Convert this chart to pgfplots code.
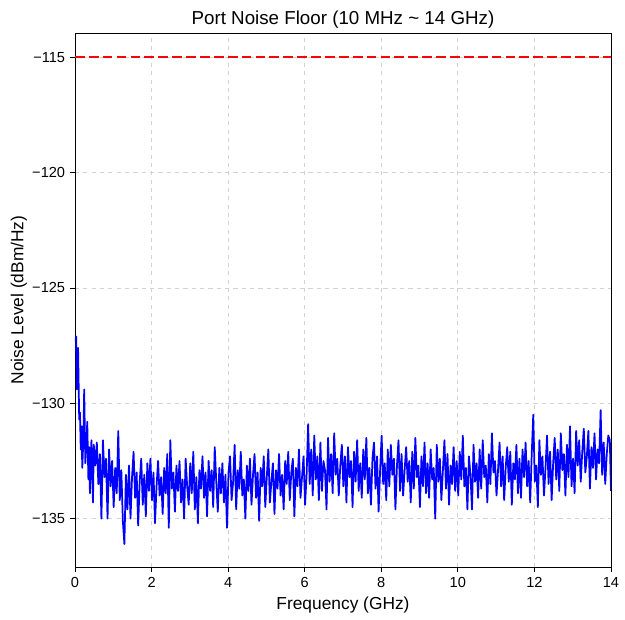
\documentclass[border=0pt]{standalone}
\usepackage{pgfplots}
\pgfplotsset{compat=1.18}
\usepackage{fontspec}
\setmainfont{Liberation Sans}

\begin{document}
\begin{tikzpicture}
  \begin{axis}[
      name=main,
      scale only axis,
      width=385.9pt,
      height=384.5pt,
      xmin=0, xmax=14,
      ymin=-137.1, ymax=-113.95,
      xtick={0,2,4,6,8,10,12,14},
      ytick={-135,-130,-125,-120,-115},
      yticklabels={−135,−130,−125,−120,−115},
      tick align=outside,
      tick pos=left,
      major tick length=3.6pt,
      tick style={black, line width=0.6pt},
      axis line style={black, line width=0.6pt},
      grid=major,
      major grid style={dashed, gray!35, line width=0.5pt},
      /pgf/number format/assume math mode=true,
      ticklabel style={font=\fontsize{10.5}{12}\selectfont},
      label style={font=\fontsize{12.5}{14}\selectfont},
      ylabel style={yshift=-3pt},
      title style={font=\fontsize{13.5}{16}\selectfont, yshift=-6.5pt},
      title={Port Noise Floor (10 MHz \textasciitilde{} 14 GHz)},
      xlabel={Frequency (GHz)},
      ylabel={Noise Level (dBm/Hz)},
    ]
    \addplot[color=blue, line width=1.25pt, line join=round] coordinates {
      (0.01,-127.3) (0.03,-127.1) (0.05,-129.4) (0.08,-127.6) (0.11,-130.7)
      (0.13,-130.4) (0.15,-132.0) (0.17,-131.0) (0.19,-132.8) (0.22,-131.5)
      (0.24,-129.4) (0.27,-132.6) (0.30,-131.7) (0.32,-130.8) (0.35,-133.3)
      (0.37,-131.9) (0.39,-133.9) (0.41,-132.3) (0.43,-131.6) (0.45,-133.1)
      (0.47,-134.3) (0.49,-131.8)
      (0.53,-132.7) (0.57,-131.7) (0.61,-133.5) (0.65,-132.2)
      (0.69,-135.0) (0.73,-131.6) (0.77,-133.2) (0.81,-132.4) (0.85,-135.0)
      (0.89,-132.0) (0.93,-133.6) (0.97,-132.5) (1.01,-134.5) (1.05,-132.8)
      (1.09,-133.9) (1.13,-131.2) (1.17,-134.2) (1.21,-132.9) (1.25,-135.1)
      (1.29,-136.1) (1.33,-133.1) (1.37,-134.6) (1.41,-132.7) (1.45,-135.0)
      (1.49,-133.2) (1.53,-132.1) (1.57,-134.1) (1.61,-133.0) (1.65,-135.3)
      (1.69,-133.4) (1.73,-132.4) (1.77,-134.4) (1.81,-133.1) (1.85,-134.9)
      (1.89,-132.6) (1.93,-133.8) (1.97,-132.4) (2.01,-134.2) (2.05,-133.0)
      (2.09,-135.2) (2.13,-133.6) (2.17,-132.5) (2.21,-134.0) (2.25,-133.2)
      (2.29,-134.8) (2.33,-132.8) (2.37,-133.9) (2.41,-132.2) (2.45,-135.4)
      (2.49,-131.6) (2.53,-133.7) (2.57,-133.0) (2.61,-134.7) (2.65,-132.7)
      (2.69,-133.8) (2.73,-132.5) (2.77,-134.3) (2.81,-133.3) (2.85,-135.0)
      (2.89,-132.4) (2.93,-133.6) (2.97,-134.4) (3.01,-132.6) (3.05,-133.9)
      (3.09,-132.1) (3.13,-134.6) (3.17,-133.2) (3.21,-135.2) (3.25,-132.9)
      (3.29,-133.7) (3.33,-132.3) (3.37,-134.1) (3.41,-133.0) (3.45,-134.9)
      (3.49,-132.5) (3.53,-133.8) (3.57,-132.9) (3.61,-134.5) (3.65,-131.9)
      (3.69,-133.4) (3.73,-134.7) (3.77,-132.8) (3.81,-133.9) (3.85,-132.6)
      (3.89,-134.3) (3.93,-133.1) (3.97,-135.4) (4.01,-133.0) (4.05,-132.3)
      (4.09,-134.2) (4.13,-133.4) (4.17,-131.8) (4.21,-134.6) (4.25,-132.9)
      (4.29,-133.7) (4.33,-132.1) (4.37,-134.0) (4.41,-133.3) (4.45,-135.0)
      (4.49,-132.7) (4.53,-133.8) (4.57,-132.4) (4.61,-134.4) (4.65,-133.1)
      (4.69,-132.2) (4.73,-134.1) (4.77,-133.0) (4.81,-135.1) (4.85,-132.8)
      (4.89,-133.6) (4.93,-132.3) (4.97,-134.5) (5.01,-133.2) (5.05,-132.0)
      (5.09,-134.3) (5.13,-133.4) (5.17,-132.6) (5.21,-134.8) (5.25,-132.9)
      (5.29,-133.7) (5.33,-132.2) (5.37,-134.0) (5.41,-133.1) (5.45,-134.6)
      (5.49,-132.5) (5.53,-133.5) (5.57,-132.1) (5.61,-134.2) (5.65,-133.0)
      (5.69,-132.4) (5.73,-134.9) (5.77,-132.8) (5.81,-133.6) (5.85,-132.0)
      (5.89,-134.1) (5.93,-133.2) (5.97,-132.3) (6.01,-134.4) (6.05,-133.1)
      (6.09,-130.9) (6.13,-133.5) (6.17,-132.0) (6.21,-134.0) (6.25,-131.4)
      (6.29,-133.3) (6.33,-132.3) (6.37,-134.2) (6.41,-131.7) (6.45,-133.8)
      (6.49,-132.5) (6.53,-132.9) (6.57,-134.6) (6.61,-131.5) (6.65,-133.4)
      (6.69,-132.2) (6.73,-133.9) (6.77,-131.3) (6.81,-133.1) (6.85,-132.4)
      (6.89,-134.0) (6.93,-132.7) (6.97,-131.8) (7.01,-133.6) (7.05,-132.3)
      (7.09,-134.3) (7.13,-131.9) (7.17,-133.2) (7.21,-132.5) (7.25,-134.5)
      (7.29,-132.1) (7.33,-133.4) (7.37,-131.6) (7.41,-133.8) (7.45,-132.6)
      (7.49,-134.1) (7.53,-132.0) (7.57,-133.3) (7.61,-131.5) (7.65,-133.9)
      (7.69,-132.8) (7.73,-134.4) (7.77,-132.4) (7.81,-131.7) (7.85,-133.7)
      (7.89,-132.3) (7.93,-134.7) (7.97,-132.9) (8.01,-131.4) (8.05,-133.5)
      (8.09,-132.6) (8.13,-134.2) (8.17,-132.0) (8.21,-133.6) (8.25,-131.8)
      (8.29,-133.1) (8.33,-132.4) (8.37,-134.6) (8.41,-132.7) (8.45,-131.6)
      (8.49,-133.8) (8.53,-132.2) (8.57,-134.0) (8.61,-132.9) (8.65,-131.9)
      (8.69,-133.4) (8.73,-132.5) (8.77,-134.3) (8.81,-132.1) (8.85,-133.7)
      (8.89,-131.5) (8.93,-133.2) (8.97,-132.7) (9.01,-134.5) (9.05,-132.3)
      (9.09,-133.6) (9.13,-131.7) (9.17,-133.9) (9.21,-132.6) (9.25,-134.1)
      (9.29,-132.0) (9.33,-133.3) (9.37,-132.8) (9.41,-135.0) (9.45,-131.8)
      (9.49,-133.4) (9.53,-132.4) (9.57,-134.2) (9.61,-132.9) (9.65,-131.6)
      (9.69,-133.7) (9.73,-132.2) (9.77,-134.4) (9.81,-132.7) (9.85,-133.5)
      (9.89,-131.9) (9.93,-133.8) (9.97,-132.5) (10.01,-134.0) (10.05,-132.1)
      (10.09,-133.3) (10.13,-131.4) (10.17,-133.6) (10.21,-132.8) (10.25,-134.6)
      (10.29,-132.3) (10.33,-133.1) (10.37,-134.6) (10.41,-131.8) (10.45,-133.4)
      (10.49,-132.6) (10.53,-134.1) (10.57,-132.0) (10.61,-133.7) (10.65,-131.6)
      (10.69,-133.2) (10.73,-132.7) (10.77,-134.3) (10.81,-132.2) (10.85,-133.5)
      (10.89,-131.3) (10.93,-133.0) (10.97,-132.5) (11.01,-134.0) (11.05,-132.9)
      (11.09,-131.7) (11.13,-133.6) (11.17,-132.3) (11.21,-134.2) (11.25,-132.8)
      (11.29,-131.9) (11.33,-133.4) (11.37,-132.1) (11.41,-134.4) (11.45,-132.6)
      (11.49,-133.3) (11.53,-131.8) (11.57,-133.9) (11.61,-132.4) (11.65,-134.1)
      (11.69,-132.0) (11.73,-133.2) (11.77,-131.7) (11.81,-133.6) (11.85,-132.5)
      (11.89,-134.3) (11.93,-132.2) (11.97,-130.5) (12.01,-133.4) (12.05,-132.7)
      (12.09,-134.5) (12.13,-131.6) (12.17,-133.1) (12.21,-132.3) (12.25,-134.0)
      (12.29,-132.8) (12.33,-131.4) (12.37,-133.5) (12.41,-132.1) (12.45,-134.2)
      (12.49,-132.6) (12.53,-131.5) (12.57,-133.3) (12.61,-132.0) (12.65,-133.8)
      (12.69,-131.3) (12.73,-132.9) (12.77,-132.2) (12.81,-134.0) (12.85,-131.8)
      (12.89,-133.2) (12.93,-131.0) (12.97,-133.6) (13.01,-132.4) (13.05,-133.9)
      (13.09,-131.2) (13.13,-132.7) (13.17,-131.6) (13.21,-133.4) (13.25,-132.1)
      (13.29,-131.1) (13.33,-133.0) (13.37,-132.3) (13.41,-131.2) (13.45,-133.7)
      (13.49,-131.9) (13.53,-132.8) (13.57,-131.3) (13.61,-133.3) (13.65,-132.0)
      (13.69,-132.6) (13.73,-130.3) (13.77,-133.1) (13.81,-131.7) (13.85,-133.5)
      (13.89,-132.2) (13.93,-131.4) (13.97,-131.6) (14.00,-133.8)
    };
    \addplot[color=red, draw=red, line width=1.15pt, dash pattern=on 7pt off 3pt] coordinates {
      (0,-115) (14,-115)
    };
  \end{axis}
  \path (main.south west) ++(-54pt,-37.4pt) coordinate (bbA);
  \path (main.north east) ++(10.1pt,23.8pt) coordinate (bbB);
  \useasboundingbox (bbA) rectangle (bbB);
\end{tikzpicture}
\end{document}
